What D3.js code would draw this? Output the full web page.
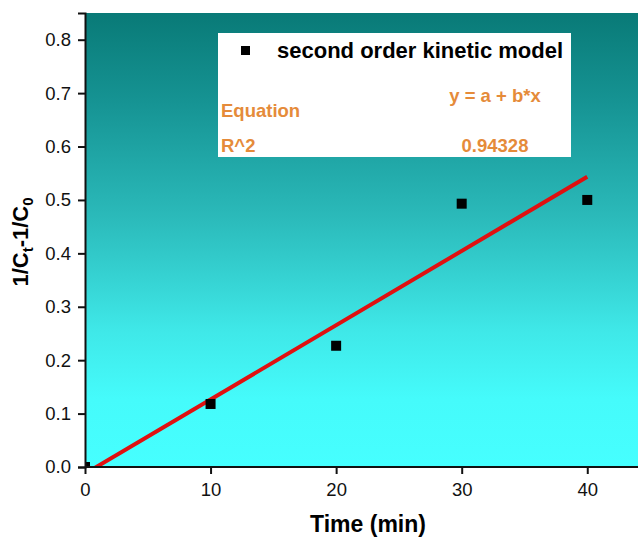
<!DOCTYPE html>
<html><head><meta charset="utf-8">
<script src="https://cdn.jsdelivr.net/npm/d3@7"></script>
<style>body{margin:0;background:#fff}svg{display:block;font-family:Arial,"Liberation Sans",sans-serif}</style>
</head><body><svg id="c" width="638" height="537"></svg>
<script>
const times = [0, 10, 20, 30, 40];
const values = [0, 0.118, 0.227, 0.493, 0.500];
const fitA = -0.0125;
const fitB = 0.0139;
const xTicks = [0, 10, 20, 30, 40];
const yTicks = [0, 0.1, 0.2, 0.3, 0.4, 0.5, 0.6, 0.7, 0.8];
const legendLabel = "second order kinetic model";
const statRows = [["Equation", "y = a + b*x"], ["R^2", "0.94328"]];

const svg = d3.select("#c");
const m = {l: 85, t: 13, b: 467};
const x = d3.scaleLinear().domain([0, 44.2]).range([m.l, 640]);
const y = d3.scaleLinear().domain([0, 0.85]).range([m.b, m.t]);

const defs = svg.append("defs");
const g = defs.append("linearGradient").attr("id","bg").attr("x1",0).attr("y1",0).attr("x2",0).attr("y2",1);
[[0,"#097a77"],[0.2,"#169494"],[0.45,"#2bbaba"],[0.7,"#3fe8e8"],[0.85,"#45fbfb"],[1,"#46ffff"]]
  .forEach(([o,c])=>g.append("stop").attr("offset",o).attr("stop-color",c));
defs.append("clipPath").attr("id","clip").append("rect")
  .attr("x",m.l).attr("y",m.t).attr("width",640-m.l).attr("height",m.b-m.t);

svg.append("rect").attr("x",m.l).attr("y",m.t).attr("width",640-m.l).attr("height",m.b-m.t).attr("fill","url(#bg)");

// legend box
svg.append("rect").attr("x",218).attr("y",33).attr("width",353).attr("height",124).attr("fill","#fff");
svg.append("rect").attr("x",241).attr("y",46).attr("width",9).attr("height",9).attr("fill","#000");
svg.append("text").attr("x",277).attr("y",58).attr("font-size",22).attr("font-weight","bold").text(legendLabel);
const orange = "#e58b3a";
const st = (xx,yy,t,anchor)=>svg.append("text").attr("x",xx).attr("y",yy).attr("text-anchor",anchor)
  .attr("font-size",18.5).attr("font-weight","bold").attr("fill",orange).text(t);
st(221,117,statRows[0][0],"start");
st(495,102,statRows[0][1],"middle");
st(221,152,statRows[1][0],"start");
st(495,152,statRows[1][1],"middle");

// fit line
const fx = [0, 40];
const plot = svg.append("g").attr("clip-path","url(#clip)");
plot.append("line")
  .attr("x1",x(fx[0])).attr("y1",y(fitA+fitB*fx[0]))
  .attr("x2",x(fx[1])).attr("y2",y(fitA+fitB*fx[1]))
  .attr("stroke","#e01010").attr("stroke-width",4);

// points
plot.append("g").selectAll("rect").data(times).join("rect")
  .attr("x",(d)=>x(d)-5).attr("y",(d,i)=>y(values[i])-5).attr("width",10).attr("height",10).attr("fill","#000");

// axes
const xa = svg.append("g").attr("transform",`translate(0,${m.b})`)
  .call(d3.axisBottom(x).tickValues(xTicks).tickSize(7).tickPadding(9).tickFormat(d3.format("d")));
const ya = svg.append("g").attr("transform",`translate(${m.l},0)`)
  .call(d3.axisLeft(y).tickValues(yTicks).tickSize(7).tickPadding(7).tickFormat(d3.format(".1f")));
[xa,ya].forEach(a=>{
  a.select(".domain").attr("stroke","#111").attr("stroke-width",2);
  a.selectAll(".tick line").attr("stroke","#111").attr("stroke-width",2);
  a.selectAll(".tick text").attr("font-size",18.5).attr("fill","#111").attr("font-family","Arial, 'Liberation Sans', sans-serif");
});
xa.select(".domain").attr("d",`M${m.l},0H640`);

svg.append("text").attr("x",368).attr("y",532).attr("text-anchor","middle").attr("font-size",23).attr("font-weight","bold").text("Time (min)");
const yt = svg.append("text").attr("transform","translate(28,242) rotate(-90)").attr("text-anchor","middle").attr("font-size",22).attr("font-weight","bold");
yt.append("tspan").text("1/C");
yt.append("tspan").attr("font-size",15).attr("dy",5).text("t");
yt.append("tspan").attr("dy",-5).text("-1/C");
yt.append("tspan").attr("font-size",15).attr("dy",5).text("0");
</script></body></html>
